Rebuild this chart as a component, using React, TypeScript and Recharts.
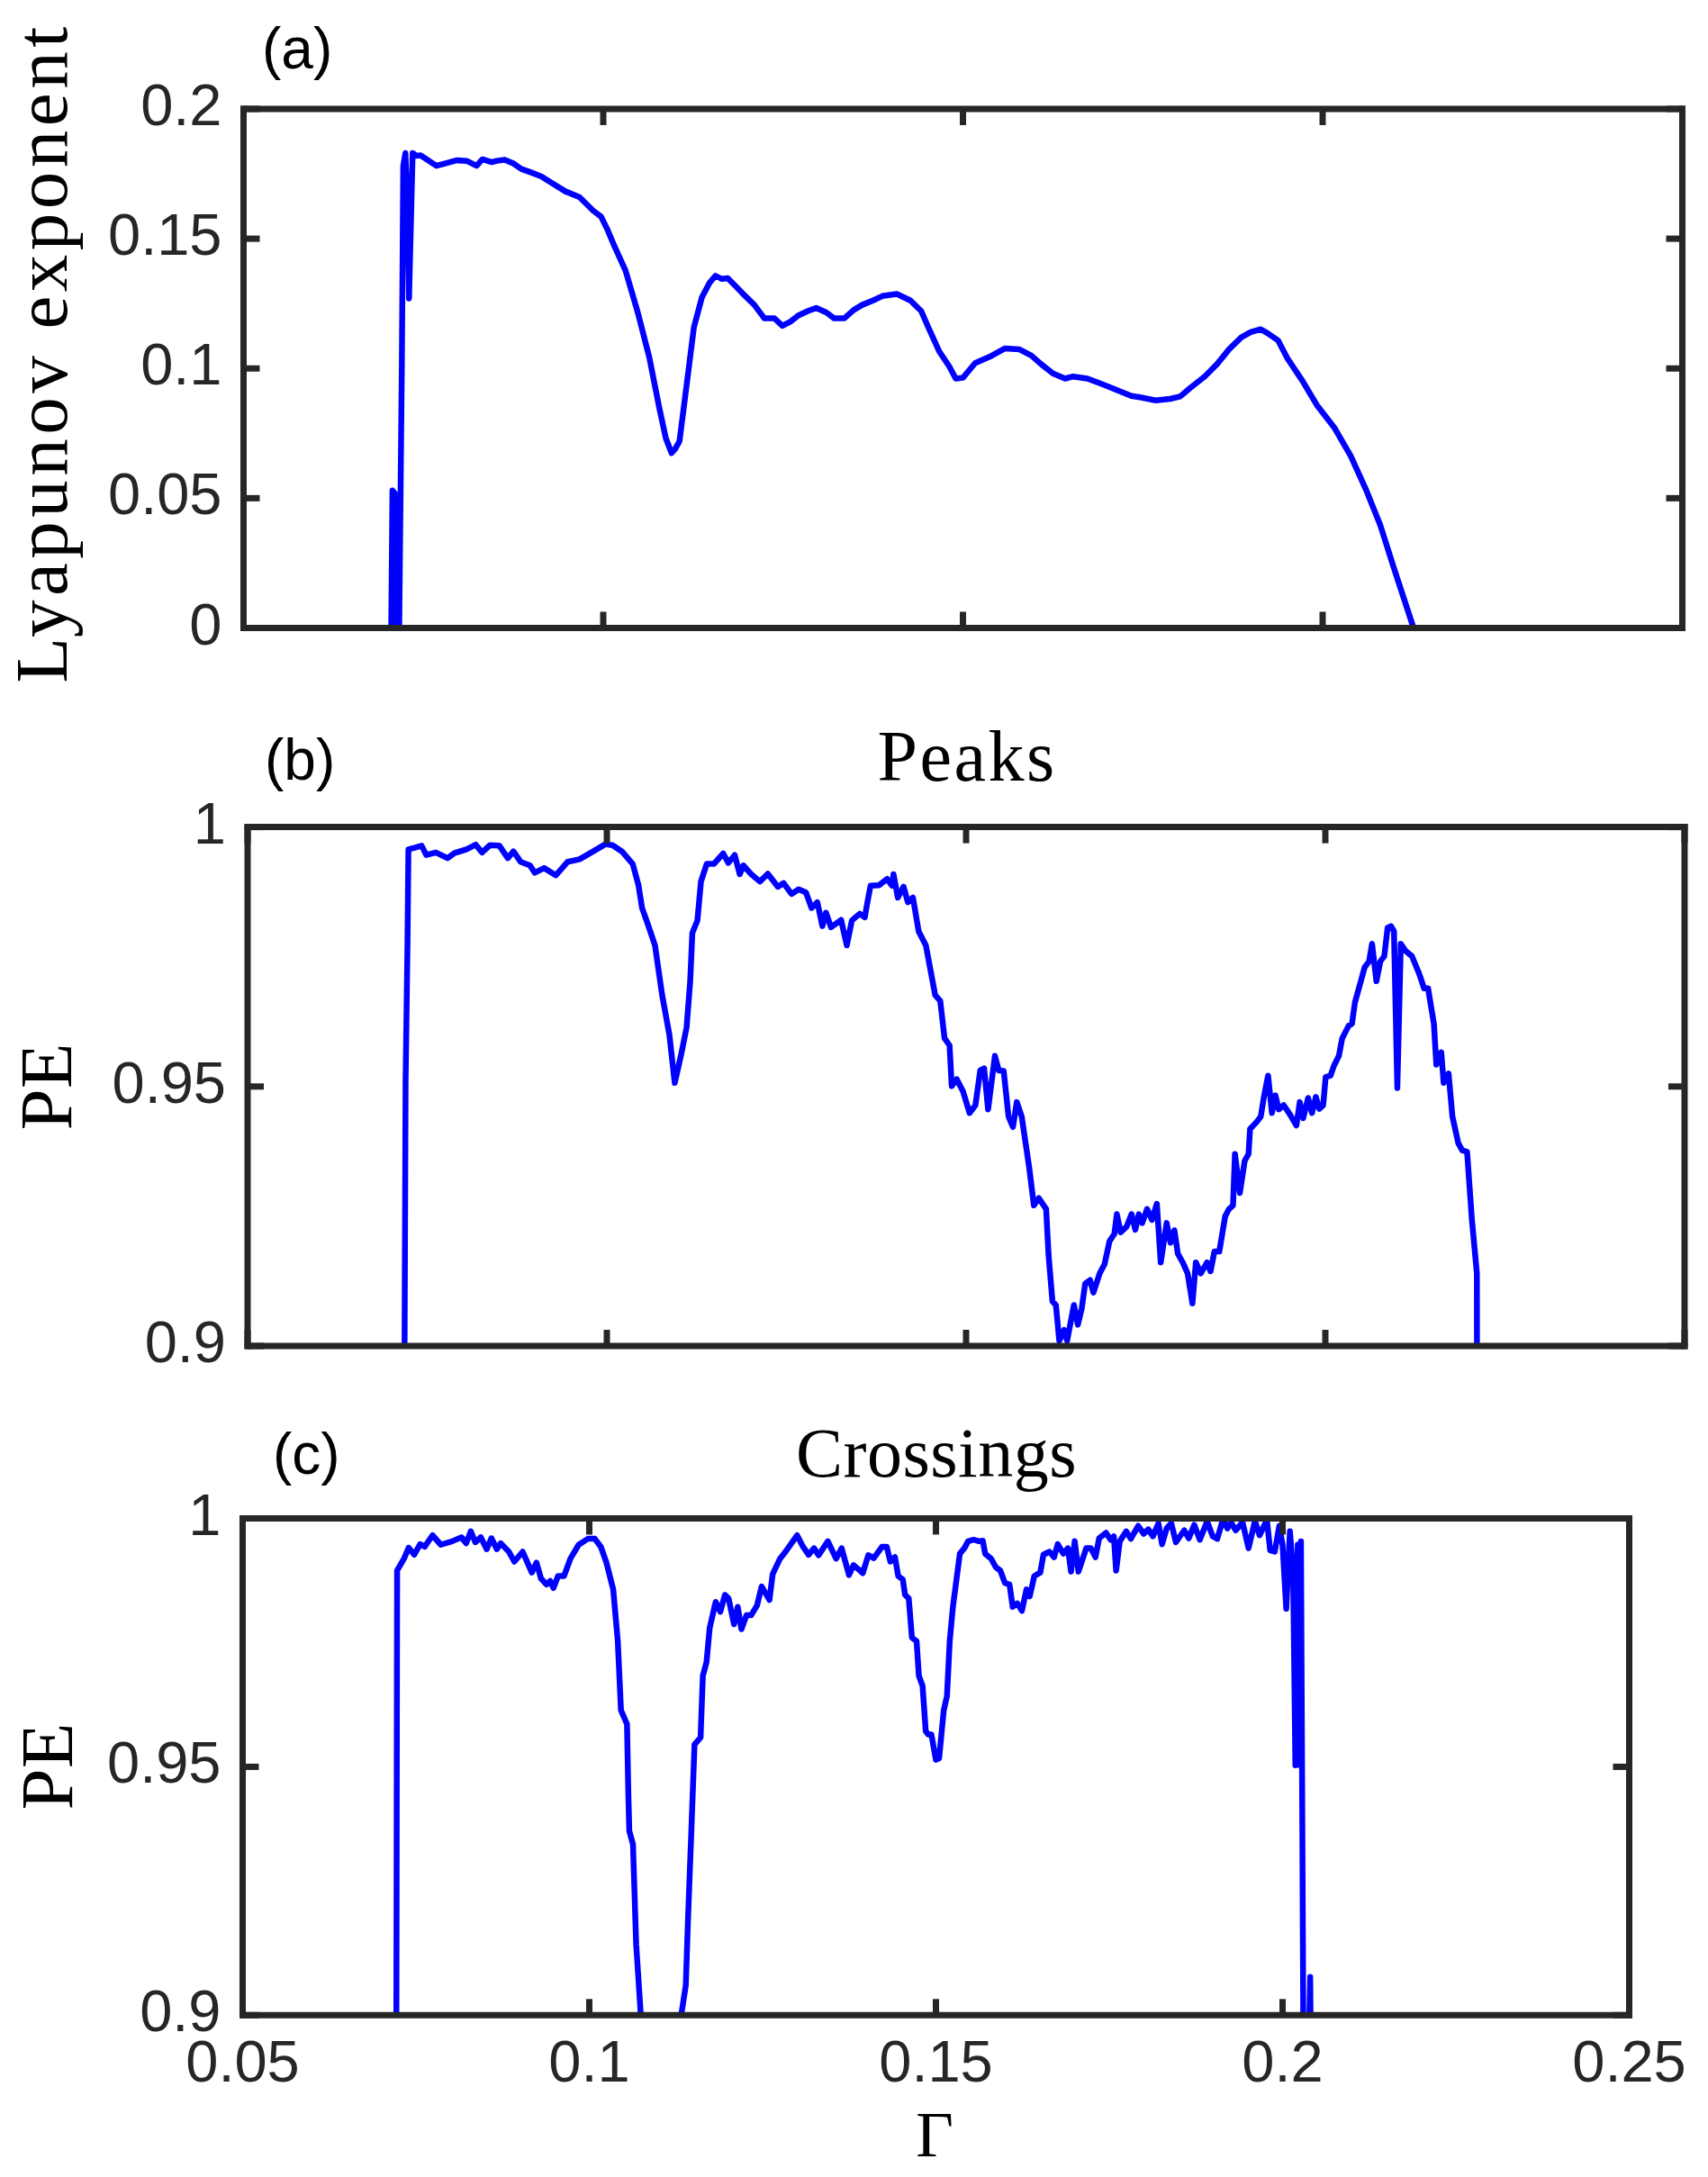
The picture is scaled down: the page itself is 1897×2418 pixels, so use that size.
import { LineChart, Line, XAxis, YAxis } from "recharts";

const FRAME = "#262626";
const BLUE = "#0000ff";
const SANS = "'Liberation Sans', Arial, Helvetica, sans-serif";
const SERIF = "'Liberation Serif', 'Times New Roman', serif";
const TICK_LEN = 18;
const AXIS_W = 7;

const xTicks = [0.05, 0.1, 0.15, 0.2, 0.25];
const lyapTicks = [0, 0.05, 0.1, 0.15, 0.2];
const peTicks = [0.9, 0.95, 1];

// (a) Lyapunov exponent vs Gamma
const lyapGamma = [
  0.0705, 0.0707, 0.071, 0.0712, 0.0716, 0.072, 0.0722, 0.0725, 0.0728, 0.073,
  0.0733, 0.0735, 0.074, 0.0746, 0.0755, 0.0768, 0.078, 0.0796, 0.081, 0.0824,
  0.0832, 0.0845, 0.0852, 0.0863, 0.0875, 0.0886, 0.09, 0.0914, 0.093, 0.0947,
  0.0967, 0.0986, 0.0997, 0.1005, 0.1014, 0.1031, 0.1048, 0.1064, 0.1078, 0.1087,
  0.1095, 0.11, 0.1106, 0.1115, 0.1126, 0.1137, 0.1148, 0.1156, 0.1165, 0.1173,
  0.1183, 0.1193, 0.121, 0.1224, 0.1238, 0.1249, 0.126, 0.1271, 0.1285, 0.1296,
  0.131, 0.1321, 0.1335, 0.1348, 0.136, 0.1375, 0.1388, 0.1408, 0.1427, 0.1442,
  0.145, 0.1467, 0.1481, 0.149, 0.15, 0.1517, 0.1537, 0.1558, 0.1578, 0.1595,
  0.1609, 0.1625, 0.1642, 0.1653, 0.1673, 0.1693, 0.1714, 0.1734, 0.1748, 0.1768,
  0.1788, 0.1802, 0.1815, 0.1836, 0.1853, 0.187, 0.1887, 0.19, 0.1914, 0.1924,
  0.1938, 0.1951, 0.1972, 0.1992, 0.2016, 0.2039, 0.206, 0.208, 0.21, 0.2126,
  0.213,
];
const lyapValue = [
  -0.01, 0.053, 0.052, -0.01, -0.01, 0.1, 0.178, 0.183, 0.16, 0.127,
  0.16, 0.183, 0.182, 0.1821, 0.1805, 0.1781, 0.179, 0.1802, 0.18, 0.1781,
  0.1806, 0.1795, 0.18, 0.1804, 0.179, 0.1769, 0.1755, 0.174, 0.1712, 0.1683,
  0.166, 0.1608, 0.1585, 0.154, 0.1481, 0.1377, 0.1216, 0.1043, 0.0847, 0.0731,
  0.0674, 0.069, 0.072, 0.0916, 0.1158, 0.1273, 0.1331, 0.1357, 0.1345, 0.1348,
  0.132, 0.1291, 0.1245, 0.1193, 0.1193, 0.1164, 0.118, 0.1204, 0.1222, 0.1233,
  0.1216, 0.1193, 0.1193, 0.1225, 0.1245, 0.1262, 0.1279, 0.1287, 0.1262, 0.1221,
  0.117, 0.1066, 0.1008, 0.0961, 0.0964, 0.1021, 0.1045, 0.1077, 0.1074, 0.105,
  0.1016, 0.0981, 0.0961, 0.0969, 0.0961, 0.094, 0.0917, 0.0894, 0.0888, 0.0877,
  0.0883, 0.0892, 0.0923, 0.0969, 0.1016, 0.1074, 0.112, 0.114, 0.1151, 0.1135,
  0.1108, 0.1039, 0.0952, 0.0859, 0.0773, 0.0663, 0.0535, 0.0397, 0.0223, 0.0003,
  -0.003,
];

// (b) PE of peaks
const peaksGamma = [
  0.07179, 0.07199, 0.07225, 0.07238, 0.07324, 0.07422, 0.07488, 0.0762, 0.07783, 0.07882,
  0.08046, 0.08176, 0.08262, 0.08373, 0.08504, 0.08622, 0.087, 0.088, 0.0893, 0.08996,
  0.09127, 0.09291, 0.09455, 0.0962, 0.09783, 0.0998, 0.10079, 0.1021, 0.1036, 0.1044,
  0.1049, 0.1057, 0.1067, 0.1077, 0.1087, 0.10945, 0.1103, 0.1111, 0.1116, 0.1119,
  0.1126, 0.1131, 0.1139, 0.1149, 0.1162, 0.1169, 0.1178, 0.1185, 0.119, 0.1201,
  0.1213, 0.1224, 0.1238, 0.1246, 0.1257, 0.1267, 0.1277, 0.1285, 0.1293, 0.13,
  0.1305, 0.1312, 0.1326, 0.1334, 0.1341, 0.1352, 0.1359, 0.1362, 0.1367, 0.1379,
  0.139, 0.1397, 0.1399, 0.1405, 0.1413, 0.1419, 0.1426, 0.1434, 0.1444, 0.1457,
  0.1464, 0.147, 0.1477, 0.148, 0.1487, 0.14959, 0.15048, 0.1513, 0.15197, 0.15251,
  0.15306, 0.15401, 0.15455, 0.15523, 0.15591, 0.15652, 0.15706, 0.15774, 0.15876, 0.15944,
  0.16012, 0.16114, 0.16148, 0.16202, 0.1625, 0.16297, 0.16365, 0.16406, 0.16501, 0.16555,
  0.16609, 0.16657, 0.16725, 0.16772, 0.1686, 0.16928, 0.16996, 0.17064, 0.17098, 0.17152,
  0.17234, 0.17302, 0.17356, 0.17404, 0.17451, 0.17519, 0.17587, 0.17655, 0.17709, 0.17791,
  0.17845, 0.17899, 0.17947, 0.18015, 0.18083, 0.1815, 0.18198, 0.18266, 0.18354, 0.18402,
  0.18456, 0.18524, 0.18606, 0.1866, 0.18715, 0.18742, 0.1881, 0.18878, 0.18931, 0.18952,
  0.19033, 0.19101, 0.19149, 0.19203, 0.19257, 0.19305, 0.19352, 0.1942, 0.19508, 0.19597,
  0.19644, 0.19692, 0.1976, 0.19814, 0.19868, 0.19916, 0.1997, 0.20004, 0.20072, 0.2012,
  0.20188, 0.20235, 0.20324, 0.20371, 0.20412, 0.20494, 0.20548, 0.20609, 0.2065, 0.20711,
  0.20765, 0.2082, 0.20867, 0.20914, 0.20955, 0.21002, 0.2105, 0.21118, 0.21206, 0.21307,
  0.21375, 0.2143, 0.21511, 0.21545, 0.21613, 0.21647, 0.21715, 0.21769, 0.2185, 0.21905,
  0.21973, 0.2204, 0.22109, 0.22112,
];
const peaksValue = [
  0.88, 0.9511, 0.9772, 0.9957, 0.996, 0.9964, 0.9946, 0.9951, 0.994, 0.995,
  0.9957, 0.9966, 0.9951, 0.9965, 0.9964, 0.994, 0.9953, 0.9933, 0.9926, 0.9912,
  0.9921, 0.9907, 0.9933, 0.9938, 0.9951, 0.9967, 0.9965, 0.9953, 0.9929, 0.9888,
  0.9844, 0.9813, 0.9772, 0.9676, 0.96, 0.9507, 0.9559, 0.9614, 0.9703, 0.9796,
  0.982, 0.9895, 0.9929, 0.9929, 0.9949, 0.9931, 0.9946, 0.9909, 0.9926, 0.9909,
  0.9895, 0.991, 0.9885, 0.9892, 0.9871, 0.988, 0.9874, 0.9844, 0.9855, 0.9809,
  0.9835, 0.9807, 0.9821, 0.9772, 0.982, 0.9833, 0.9826, 0.985, 0.9887, 0.9888,
  0.99, 0.9887, 0.9909, 0.9864, 0.9885, 0.9855, 0.9864, 0.9799, 0.9772, 0.9676,
  0.9665, 0.9593, 0.9579, 0.9501, 0.9514, 0.949, 0.9449, 0.9464, 0.9531, 0.9535,
  0.9456, 0.9559, 0.9531, 0.953, 0.9442, 0.9422, 0.947, 0.9442, 0.9346, 0.9271,
  0.9285, 0.9264, 0.9175, 0.9086, 0.9079, 0.901, 0.9031, 0.901, 0.9079, 0.9041,
  0.9072, 0.912, 0.9127, 0.9103, 0.914, 0.9158, 0.9202, 0.9216, 0.9254, 0.9219,
  0.923, 0.9254, 0.9224, 0.9254, 0.9237, 0.9264, 0.9243, 0.9274, 0.9161, 0.9237,
  0.9199, 0.9223, 0.9178, 0.9161, 0.914, 0.9082, 0.9161, 0.914, 0.9161, 0.9144,
  0.9182, 0.9182, 0.925, 0.9264, 0.9271, 0.937, 0.9295, 0.9357, 0.937, 0.9418,
  0.943, 0.9442, 0.9483, 0.9521, 0.9449, 0.9483, 0.9456, 0.9464, 0.9446, 0.9425,
  0.947, 0.9439, 0.9478, 0.9449, 0.948, 0.9457, 0.9464, 0.9518, 0.9521, 0.954,
  0.9559, 0.9593, 0.9617, 0.9621, 0.9662, 0.9703, 0.973, 0.9741, 0.9775, 0.9703,
  0.9741, 0.9751, 0.9806, 0.9809, 0.9799, 0.9497, 0.9775, 0.9761, 0.9751, 0.9717,
  0.9689, 0.9689, 0.9621, 0.9542, 0.9566, 0.9507, 0.9525, 0.9442, 0.9391, 0.9377,
  0.9374, 0.9243, 0.914, 0.88,
];

// (c) PE of crossings
const crossGamma = [
  0.07215, 0.07228, 0.07328, 0.07394, 0.07474, 0.0756, 0.07626, 0.07739, 0.07858, 0.08024,
  0.08157, 0.08223, 0.0829, 0.08356, 0.08435, 0.08521, 0.08588, 0.08667, 0.0872, 0.0884,
  0.08919, 0.09039, 0.09171, 0.09238, 0.09304, 0.09383, 0.09436, 0.09483, 0.09549, 0.09635,
  0.09728, 0.09847, 0.0998, 0.1008, 0.10166, 0.10245, 0.10345, 0.10411, 0.10457, 0.10544,
  0.10564, 0.10577, 0.1063, 0.10676, 0.10743, 0.108, 0.1127, 0.11326, 0.11392, 0.11425,
  0.11472, 0.11518, 0.11605, 0.11638, 0.11691, 0.11737, 0.11823, 0.1189, 0.11956, 0.12009,
  0.12088, 0.12141, 0.12194, 0.12267, 0.12334, 0.1242, 0.12486, 0.12599, 0.12645, 0.12751,
  0.12831, 0.12997, 0.13083, 0.13163, 0.13242, 0.13309, 0.13441, 0.1356, 0.1364, 0.13746,
  0.13812, 0.13945, 0.14025, 0.14104, 0.14223, 0.1429, 0.14343, 0.14409, 0.14456, 0.14522,
  0.14555, 0.14608, 0.14654, 0.14721, 0.14754, 0.14807, 0.14853, 0.14887, 0.14934, 0.15,
  0.15046, 0.15113, 0.15159, 0.15199, 0.15245, 0.15345, 0.1541, 0.15464, 0.15544, 0.15623,
  0.15676, 0.1571, 0.15796, 0.15862, 0.15928, 0.15995, 0.16061, 0.16107, 0.16173, 0.1624,
  0.16306, 0.16353, 0.16419, 0.16505, 0.16551, 0.16638, 0.16704, 0.16757, 0.16837, 0.16903,
  0.16949, 0.17002, 0.17056, 0.17168, 0.17234, 0.17301, 0.17354, 0.17453, 0.1752, 0.17566,
  0.17599, 0.17652, 0.17745, 0.17811, 0.17917, 0.17997, 0.18063, 0.1813, 0.18209, 0.18262,
  0.18328, 0.18395, 0.18461, 0.18581, 0.18647, 0.18726, 0.18806, 0.18912, 0.18992, 0.19058,
  0.19138, 0.19204, 0.19257, 0.19323, 0.19423, 0.19509, 0.19602, 0.19668, 0.19774, 0.19821,
  0.19887, 0.19953, 0.2, 0.20053, 0.20106, 0.20152, 0.20185, 0.20219, 0.20252, 0.20265,
  0.20305, 0.2036, 0.20398, 0.20418,
];
const crossValue = [
  0.88, 0.9895, 0.9919, 0.9941, 0.9927, 0.9948, 0.9943, 0.9966, 0.9947, 0.9954,
  0.9962, 0.995, 0.9974, 0.9952, 0.9962, 0.9938, 0.996, 0.9938, 0.995, 0.9933,
  0.9913, 0.9933, 0.9891, 0.9911, 0.9879, 0.9867, 0.9874, 0.986, 0.9884, 0.9884,
  0.9919, 0.9947, 0.9959, 0.9959, 0.9943, 0.9912, 0.9857, 0.9753, 0.9614, 0.9586,
  0.9441, 0.9371, 0.9344, 0.9143, 0.9, 0.88, 0.88, 0.9, 0.906, 0.9198,
  0.9371, 0.9545, 0.9559, 0.9683, 0.9711, 0.978, 0.9832, 0.9812, 0.9846, 0.9839,
  0.9787, 0.9822, 0.9777, 0.9805, 0.9805, 0.9825, 0.9863, 0.9836, 0.9888, 0.9919,
  0.9933, 0.9966, 0.9943, 0.9927, 0.994, 0.9926, 0.9954, 0.9919, 0.994, 0.9886,
  0.9906, 0.989, 0.9926, 0.992, 0.9943, 0.9943, 0.9913, 0.9922, 0.9884, 0.9877,
  0.9846, 0.9839, 0.976, 0.9753, 0.9683, 0.9663, 0.9572, 0.9565, 0.9565, 0.9514,
  0.9517, 0.9614, 0.9642, 0.9753, 0.9822, 0.9929, 0.994, 0.9954, 0.9957, 0.9954,
  0.9955, 0.9929, 0.9919, 0.9902, 0.9895, 0.987, 0.9867, 0.9822, 0.9829, 0.9814,
  0.9857, 0.9843, 0.9884, 0.9891, 0.9927, 0.9933, 0.9922, 0.9948, 0.9929, 0.994,
  0.9893, 0.9954, 0.9893, 0.994, 0.994, 0.9922, 0.996, 0.9971, 0.9957, 0.9964,
  0.9895, 0.9954, 0.9974, 0.9959, 0.9985, 0.9969, 0.9978, 0.9964, 0.999, 0.9948,
  0.998, 0.999, 0.9952, 0.9976, 0.996, 0.9987, 0.9957, 0.9994, 0.9964, 0.9959,
  0.9997, 0.998, 0.9992, 0.9976, 0.9992, 0.994, 0.9995, 0.9966, 0.9997, 0.9936,
  0.9933, 0.9985, 0.9947, 0.9818, 0.9974, 0.9891, 0.9503, 0.9947, 0.9503, 0.9954,
  0.88, 0.88, 0.9077, 0.88,
];

const fmt = (v: number) => String(v);

function BottomTick(props: any) {
  const { x, y, payload, showLabel } = props;
  return (
    <g>
      <line x1={x} x2={x} y1={y} y2={y - TICK_LEN} stroke={FRAME} strokeWidth={AXIS_W} />
      {showLabel && (
        <text x={x} y={y + 74} textAnchor="middle" fontFamily={SANS} fontSize={65} fill={FRAME}>
          {fmt(payload.value)}
        </text>
      )}
    </g>
  );
}

function TopTick(props: any) {
  const { x, y } = props;
  return <line x1={x} x2={x} y1={y} y2={y + TICK_LEN} stroke={FRAME} strokeWidth={AXIS_W} />;
}

function LeftTick(props: any) {
  const { x, y, payload } = props;
  return (
    <g>
      <line x1={x} x2={x + TICK_LEN} y1={y} y2={y} stroke={FRAME} strokeWidth={AXIS_W} />
      <text x={x - 24} y={y + 18} textAnchor="end" fontFamily={SANS} fontSize={65} fill={FRAME}>
        {fmt(payload.value)}
      </text>
    </g>
  );
}

function RightTick(props: any) {
  const { x, y } = props;
  return <line x1={x} x2={x - TICK_LEN} y1={y} y2={y} stroke={FRAME} strokeWidth={AXIS_W} />;
}

interface PanelProps {
  top: number;
  height: number;
  plotLeft: number;
  plotRight: number;
  plotTop: number;
  plotBottom: number;
  gamma: number[];
  values: number[];
  yDomain: [number, number];
  yTicks: number[];
  xLabels: boolean;
}

function Panel({ top, height, plotLeft, plotRight, plotTop, plotBottom, gamma, values, yDomain, yTicks, xLabels }: PanelProps) {
  const data = gamma.map((g, i) => ({ g, v: values[i] }));
  const width = 1897;
  const axisLine = { stroke: FRAME, strokeWidth: AXIS_W, strokeLinecap: "square" as const };
  return (
    <div style={{ position: "absolute", left: 0, top }}>
      <LineChart width={width} height={height} data={data} margin={{ top: 0, right: 0, bottom: 0, left: 0 }}>
        <XAxis
          xAxisId="bottom"
          dataKey="g"
          type="number"
          domain={[0.05, 0.25]}
          ticks={xTicks}
          interval={0}
          allowDataOverflow
          height={height - plotBottom}
          tickSize={0}
          tickMargin={0}
          tickLine={false}
          axisLine={axisLine}
          tick={(p: any) => <BottomTick {...p} showLabel={xLabels} />}
        />
        <XAxis
          xAxisId="top"
          orientation="top"
          dataKey="g"
          type="number"
          domain={[0.05, 0.25]}
          ticks={xTicks}
          interval={0}
          allowDataOverflow
          height={plotTop}
          tickSize={0}
          tickMargin={0}
          tickLine={false}
          axisLine={axisLine}
          tick={(p: any) => <TopTick {...p} />}
        />
        <YAxis
          yAxisId="left"
          type="number"
          domain={yDomain}
          ticks={yTicks}
          interval={0}
          allowDataOverflow
          width={plotLeft}
          tickSize={0}
          tickMargin={0}
          tickLine={false}
          axisLine={axisLine}
          tick={(p: any) => <LeftTick {...p} />}
        />
        <YAxis
          yAxisId="right"
          orientation="right"
          type="number"
          domain={yDomain}
          ticks={yTicks}
          interval={0}
          allowDataOverflow
          width={width - plotRight}
          tickSize={0}
          tickMargin={0}
          tickLine={false}
          axisLine={axisLine}
          tick={(p: any) => <RightTick {...p} />}
        />
        <Line
          xAxisId="bottom"
          yAxisId="left"
          dataKey="v"
          type="linear"
          stroke={BLUE}
          strokeWidth={6.5}
          strokeLinejoin="round"
          dot={false}
          activeDot={false}
          isAnimationActive={false}
        />
      </LineChart>
    </div>
  );
}

export default function App() {
  return (
    <div style={{ position: "absolute", left: 0, top: 0, width: 1897, height: 2418, background: "#fff" }}>
      <Panel
        top={0}
        height={760}
        plotLeft={270.5}
        plotRight={1868.5}
        plotTop={121}
        plotBottom={697.5}
        gamma={lyapGamma}
        values={lyapValue}
        yDomain={[0, 0.2]}
        yTicks={lyapTicks}
        xLabels={false}
      />
      <Panel
        top={780}
        height={760}
        plotLeft={275}
        plotRight={1871}
        plotTop={138.6}
        plotBottom={715}
        gamma={peaksGamma}
        values={peaksValue}
        yDomain={[0.9, 1]}
        yTicks={peTicks}
        xLabels={false}
      />
      <Panel
        top={1560}
        height={858}
        plotLeft={269.5}
        plotRight={1809.5}
        plotTop={126.5}
        plotBottom={678.3}
        gamma={crossGamma}
        values={crossValue}
        yDomain={[0.9, 1]}
        yTicks={peTicks}
        xLabels={true}
      />
      <svg
        width={1897}
        height={2418}
        style={{ position: "absolute", left: 0, top: 0, pointerEvents: "none" }}
      >
        <text x={291} y={76} fontFamily={SANS} fontSize={64} fill="#000">(a)</text>
        <text x={294} y={866} fontFamily={SANS} fontSize={64} fill="#000">(b)</text>
        <text x={303} y={1637} fontFamily={SANS} fontSize={64} fill="#000">(c)</text>
        <text x={1074} y={867} textAnchor="middle" fontFamily={SERIF} fontSize={80} letterSpacing={2.5} fill="#000">Peaks</text>
        <text x={1040} y={1640} textAnchor="middle" fontFamily={SERIF} fontSize={78} letterSpacing={0.5} fill="#000">Crossings</text>
        <text transform="translate(74,392) rotate(-90)" textAnchor="middle" fontFamily={SERIF} fontSize={83} letterSpacing={4.5} fill="#000">
          Lyapunov exponent
        </text>
        <text transform="translate(79,1207) rotate(-90)" textAnchor="middle" fontFamily={SERIF} fontSize={83} fill="#000">
          PE
        </text>
        <text transform="translate(80,1962) rotate(-90)" textAnchor="middle" fontFamily={SERIF} fontSize={83} fill="#000">
          PE
        </text>
        <text x={1038} y={2395} textAnchor="middle" fontFamily={SERIF} fontSize={72} fill="#000">Γ</text>
      </svg>
    </div>
  );
}
